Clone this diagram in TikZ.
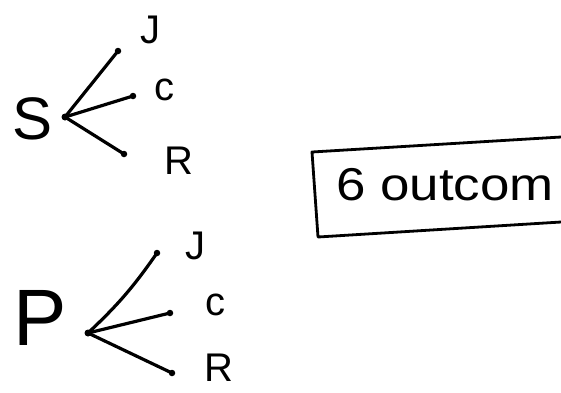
\documentclass[tikz,border=0pt]{standalone}
\usepackage{fontspec}
\setmainfont{Liberation Sans}
\begin{document}
\begin{tikzpicture}[x=1pt,y=-1pt,
  stroke/.style={line width=3.2pt,line cap=round},
  enddot/.style={circle,fill=black,inner sep=0pt,minimum size=6.5pt},
  rootdot/.style={circle,fill=black,inner sep=0pt,minimum size=7pt},
  biglabel/.style={font=\fontsize{60}{60}\selectfont,inner sep=0pt},
  leaflabel/.style={font=\fontsize{40}{40}\selectfont,inner sep=0pt},
  boxline/.style={line width=2.8pt,line join=round}]
\useasboundingbox (0,0) rectangle (561,392);
% S tree
\node[biglabel] (S) at (33,119) {S};
\node[rootdot] (sr) at (65,117) {};
\node[enddot] (sj) at (118,51) {};
\node[enddot] (sc) at (133,96) {};
\node[enddot] (sk) at (124,154) {};
\node[leaflabel] (sJ) at (150,30) {J};
\node[leaflabel] (sC) at (164,90) {c};
\node[leaflabel] (sR) at (179,161) {R};
\draw[stroke] (sr.center) -- (sj.center);
\draw[stroke] (sr.center) -- (sc.center);
\draw[stroke] (sr.center) -- (sk.center);
% P tree
\node[font=\fontsize{80}{80}\selectfont,inner sep=0pt] (P) at (40,318) {P};
\node[rootdot] (pr) at (88,333) {};
\node[enddot] (pj) at (157,253) {};
\node[enddot] (pc) at (170,313) {};
\node[enddot] (pk) at (172,373) {};
\node[leaflabel] (pJ) at (195,246) {J};
\node[leaflabel] (pC) at (215,305) {c};
\node[leaflabel] (pR) at (219,368) {R};
\draw[stroke] (pr.center) to[bend right=6] (pj.center);
\draw[stroke] (pr.center) -- (pc.center);
\draw[stroke] (pr.center) -- (pk.center);
% box
\coordinate (btr) at (561,137);
\coordinate (btl) at (312,152);
\coordinate (bbl) at (318,237);
\coordinate (bbr) at (561,222);
\draw[boxline] (btr) -- (btl) -- (bbl) -- (bbr);
\node[font=\fontsize{46}{46}\selectfont,inner sep=0pt,anchor=base west,xscale=1.15,transform shape] (out) at (336,200) {6 outcom};
\end{tikzpicture}
\end{document}
